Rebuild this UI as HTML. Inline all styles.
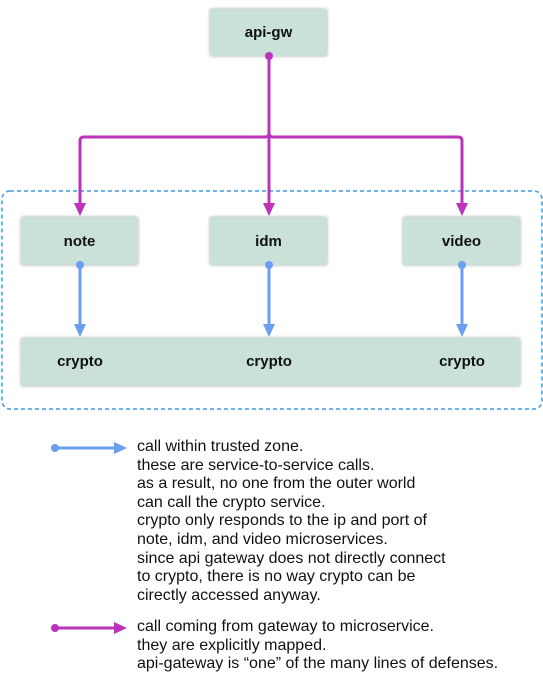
<!DOCTYPE html>
<html><head><meta charset="utf-8"><style>
html,body{margin:0;padding:0;background:#fff;width:543px;height:678px;overflow:hidden}
.box{position:absolute;background:#c9e1d8;box-shadow:0 0 3px rgba(0,0,0,0.35);border-radius:2px;font:bold 15px "Liberation Sans",sans-serif;color:#111;display:flex;align-items:center;justify-content:center}
.txt{position:absolute;font:16px "Liberation Sans",sans-serif;color:#111;line-height:18.6px;white-space:pre}
</style></head><body>
<div class="box" style="left:210px;top:9px;width:117px;height:47px">api-gw</div>
<div class="box" style="left:21px;top:217px;width:117px;height:48px">note</div>
<div class="box" style="left:210px;top:217px;width:117px;height:48px">idm</div>
<div class="box" style="left:403px;top:217px;width:117px;height:48px">video</div>
<div class="box" style="left:21px;top:338px;width:499px;height:48px;display:block">
<span style="position:absolute;left:59px;top:15px;transform:translateX(-50%)">crypto</span>
<span style="position:absolute;left:248px;top:15px;transform:translateX(-50%)">crypto</span>
<span style="position:absolute;left:441px;top:15px;transform:translateX(-50%)">crypto</span>
</div>
<svg width="543" height="678" style="position:absolute;left:0;top:0">
<rect x="2" y="191" width="540" height="218" rx="8" fill="none" stroke="#3d9ae8" stroke-width="1.5" stroke-dasharray="4,3"/>
<g stroke="#bb33bb" stroke-width="3" fill="none">
<path d="M269 56 V212"/>
<path d="M80 212 V141 Q80 137 84 137 H265 Q269 137 269 133 Q269 137 273 137 H458 Q462 137 462 141 V212"/>
</g>
<g fill="#bb33bb">
<circle cx="269" cy="56" r="4"/>
<polygon points="74,203 86,203 80,216"/><polygon points="263,203 275,203 269,216"/><polygon points="456,203 468,203 462,216"/>
<circle cx="55" cy="628" r="4"/><path d="M55 628 H116" stroke="#bb33bb" stroke-width="3"/><polygon points="114,622 127,628 114,634"/>
</g>
<g stroke="#6a9ef0" stroke-width="3">
<path d="M80 265 V328"/><path d="M269 265 V328"/><path d="M462 265 V328"/><path d="M55 448 H116"/>
</g>
<g fill="#6a9ef0">
<circle cx="80" cy="265" r="4"/><circle cx="269" cy="265" r="4"/><circle cx="462" cy="265" r="4"/>
<polygon points="74,324 86,324 80,337"/><polygon points="263,324 275,324 269,337"/><polygon points="456,324 468,324 462,337"/>
<circle cx="55" cy="448" r="4"/><polygon points="114,442 127,448 114,454"/>
</g>
</svg>
<div class="txt" style="left:137px;top:438px">call within trusted zone.
these are service-to-service calls.
as a result, no one from the outer world
can call the crypto service.
crypto only responds to the ip and port of
note, idm, and video microservices.
since api gateway does not directly connect
to crypto, there is no way crypto can be
cirectly accessed anyway.</div>
<div class="txt" style="left:137px;top:618px">call coming from gateway to microservice.
they are explicitly mapped.
api-gateway is “one” of the many lines of defenses.</div>
</body></html>
